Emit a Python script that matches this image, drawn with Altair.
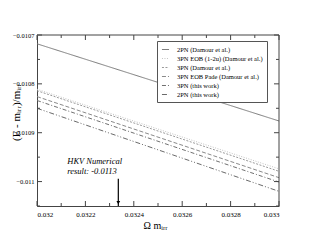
import altair as alt
import pandas as pd

# ---- data ----
series = [
    "2PN (Damour et al.)",
    "3PN EOB (1-2u) (Damour et al.)",
    "3PN (Damour et al.)",
    "3PN EOB Pade (Damour et al.)",
    "3PN (this work)",
    "2PN (this work)",
]
x_start = 0.032
x_end = 0.033
y_start = [-0.010718, -0.010811, -0.010814, -0.010826, -0.010834, -0.010850]
y_end = [-0.010876, -0.010974, -0.010979, -0.010992, -0.011001, -0.011020]

colors = ["#7a7a7a", "#c4c4c4", "#9a9a9a", "#8a8a8a", "#707070", "#6a6a6a"]
dashes = [[1, 0], [1, 1.5], [2, 1.5], [4, 2], [4, 2, 1, 2], [5, 2, 1, 2, 1, 2]]

x_major = [0.032, 0.0322, 0.0324, 0.0326, 0.0328, 0.033]
x_minor = [0.0321, 0.0323, 0.0325, 0.0327, 0.0329]
y_major = [-0.0107, -0.0108, -0.0109, -0.011]
y_minor = [-0.01075, -0.01085, -0.01095, -0.01105]

hkv_x = 0.032336
hkv_arrow_top = -0.010994
text_x = 0.032125
text_lines = ["HKV Numerical", "result:  -0.0113"]
text_y = [-0.010958, -0.010978]

x_dom = [0.032, 0.033]
y_dom = [-0.01105, -0.0107]

W, H = 242, 171
FONT = "Liberation Serif"

rows = []
for s, a, b in zip(series, y_start, y_end):
    rows.append({"series": s, "x": x_start, "y": a})
    rows.append({"series": s, "x": x_end, "y": b})
df = pd.DataFrame(rows)

xs = alt.Scale(domain=x_dom, nice=False, zero=False)
ys = alt.Scale(domain=y_dom, nice=False, zero=False)

lines = alt.Chart(df).mark_line(strokeWidth=1, clip=True).encode(
    x=alt.X("x:Q", scale=xs,
            axis=alt.Axis(values=x_major, format=".4~f", title="Ω mᵢᵣᵣ",
                          ticks=False, labelFontSize=7, labelFont=FONT,
                          titleFont=FONT, titleFontSize=10, titleFontWeight="normal",
                          titleX=118, titleY=19, titleBaseline="middle",
                          labelPadding=4, domainColor="#444")),
    y=alt.Y("y:Q", scale=ys,
            axis=alt.Axis(values=y_major, format=".4~f", title="(E - mᵢᵣᵣ)/mᵢᵣᵣ",
                          ticks=False, labelFontSize=6.5, labelFont=FONT,
                          titleFont=FONT, titleFontSize=11, titleFontWeight="normal",
                          titleX=-21, titleY=77, titleAngle=270, titleAlign="center",
                          titleBaseline="middle",
                          labelPadding=3, domainColor="#444")),
    color=alt.Color("series:N", sort=series,
                    scale=alt.Scale(domain=series, range=colors),
                    legend=alt.Legend(title=None, orient="none", legendX=120, legendY=6,
                                      labelFont=FONT, labelFontSize=6.5, labelLimit=200,
                                      symbolType="stroke", symbolSize=50, symbolStrokeWidth=1,
                                      rowPadding=1, padding=4, labelOffset=7,
                                      strokeColor="#555", fillColor="white")),
    strokeDash=alt.StrokeDash("series:N", sort=series,
                              scale=alt.Scale(domain=series, range=dashes)),
    detail="series:N",
)

def tick_layer(vals, axis, size):
    d = pd.DataFrame({"v": vals})
    c = alt.Chart(d).mark_rule(color="#444", strokeWidth=1)
    layers = []
    if axis == "x":
        layers.append(c.encode(x=alt.X("v:Q", scale=xs), y=alt.value(H), y2=alt.value(H - size)))
        layers.append(c.encode(x=alt.X("v:Q", scale=xs), y=alt.value(0), y2=alt.value(size)))
    else:
        layers.append(c.encode(y=alt.Y("v:Q", scale=ys), x=alt.value(0), x2=alt.value(size)))
        layers.append(c.encode(y=alt.Y("v:Q", scale=ys), x=alt.value(W), x2=alt.value(W - size)))
    return layers

ticks = (tick_layer(x_major, "x", 5) + tick_layer(x_minor, "x", 3)
         + tick_layer(y_major, "y", 5) + tick_layer(y_minor, "y", 3))

frame = alt.Chart(pd.DataFrame({"a": [0]})).mark_rule(color="#444").encode(
    x=alt.value(W), y=alt.value(0), y2=alt.value(H))
frame_top = alt.Chart(pd.DataFrame({"a": [0]})).mark_rule(color="#444").encode(
    x=alt.value(0), x2=alt.value(W), y=alt.value(0))

arrow_df = pd.DataFrame({"x": [hkv_x], "y": [hkv_arrow_top], "y2": [y_dom[0]]})
arrow = alt.Chart(arrow_df).mark_rule(color="black", strokeWidth=1.2).encode(
    x=alt.X("x:Q", scale=xs), y=alt.Y("y:Q", scale=ys), y2="y2:Q")
head_df = pd.DataFrame({"x": [hkv_x], "y": [-0.011043]})
head = alt.Chart(head_df).mark_point(shape="triangle-down", filled=True, color="black",
                                     size=14, opacity=1).encode(
    x=alt.X("x:Q", scale=xs), y=alt.Y("y:Q", scale=ys))

text_df = pd.DataFrame({"x": [text_x] * 2, "y": text_y, "t": text_lines})
text = alt.Chart(text_df).mark_text(align="left", baseline="middle", font=FONT,
                                     fontStyle="italic", fontSize=8.5, color="black").encode(
    x=alt.X("x:Q", scale=xs), y=alt.Y("y:Q", scale=ys), text="t:N")

chart = alt.layer(lines, *ticks, frame, frame_top, arrow, head, text).properties(
    width=W, height=H,
    autosize=alt.AutoSizeParams(type="none"),
    padding={"left": 29, "top": 27, "right": 20, "bottom": 30},
).configure_view(stroke=None).configure_axis(grid=False)

chart.save("out.html", embed_options={"renderer": "svg", "actions": False})
